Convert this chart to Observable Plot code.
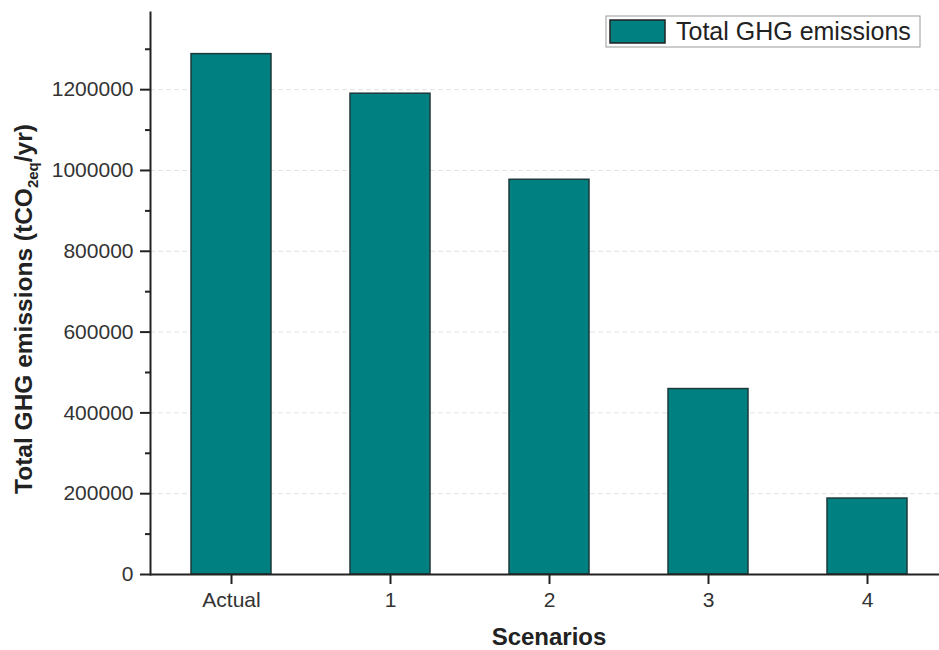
<!DOCTYPE html>
<html>
<head>
<meta charset="utf-8">
<script src="https://cdn.jsdelivr.net/npm/d3@7"></script>
<script src="https://cdn.jsdelivr.net/npm/@observablehq/plot@0.6"></script>
<style>
  html, body { margin: 0; padding: 0; background: #fff; }
  #chart svg { display: block; font-family: "Liberation Sans", Arial, sans-serif; }
</style>
</head>
<body>
<div id="chart"></div>
<script>
const scenarios = ["Actual", "1", "2", "3", "4"];
const emissions = [1288000, 1190000, 977000, 459000, 188000];
const yTicks = [0, 200000, 400000, 600000, 800000, 1000000, 1200000];
const yMinorTicks = [100000, 300000, 500000, 700000, 900000, 1100000, 1300000];
const legendLabel = "Total GHG emissions";
const xTitle = "Scenarios";

const data = scenarios.map((s, i) => ({scenario: s, value: emissions[i]}));

const teal = "#008080";
const ink = "#222";

const plot = Plot.plot({
  width: 939,
  height: 650,
  marginLeft: 150,
  marginRight: 0,
  marginTop: 12,
  marginBottom: 76,
  style: {fontFamily: "Liberation Sans, Arial, sans-serif", background: "#fff", color: ink},
  x: {type: "band", domain: scenarios, range: [150, 946.5], paddingInner: 0.5, paddingOuter: 0.25, label: null},
  y: {domain: [0, 1391000], label: null},
  marks: [
    Plot.gridY(yTicks.slice(1), {stroke: "#e2e2e2", strokeOpacity: 1, strokeDasharray: "5,3"}),
    Plot.barY(data, {x: "scenario", y: "value", fill: teal, stroke: "#1c3a3a", strokeWidth: 1.5}),
    Plot.frame({anchor: "left", stroke: ink, strokeWidth: 2}),
    Plot.ruleY([0], {stroke: ink, strokeWidth: 2}),
    Plot.axisY({ticks: yTicks, tickSize: 10, tickPadding: 7, tickFormat: d => String(d), fontSize: 21, stroke: ink, strokeWidth: 2, fill: "#333", label: null}),
    Plot.axisY({ticks: yMinorTicks, tickSize: 5, tickFormat: () => "", stroke: ink, strokeWidth: 2, label: null}),
    Plot.axisX({tickSize: 10, tickPadding: 8, fontSize: 21, stroke: ink, strokeWidth: 2, fill: "#333", label: null}),
    Plot.text([xTitle], {text: d => d, frameAnchor: "bottom", dx: 4, dy: 70, fontSize: 24, fontWeight: "bold", fill: ink, textAnchor: "middle"})
  ]
});

document.getElementById("chart").appendChild(plot);

const svg = d3.select(plot);

// Y axis title with subscript
const yt = svg.append("text")
  .attr("transform", "translate(32,309) rotate(-90)")
  .attr("text-anchor", "middle")
  .attr("fill", ink)
  .style("font-family", "Liberation Sans, Arial, sans-serif")
  .style("font-weight", "bold")
  .style("font-size", "24.5px");
yt.append("tspan").text("Total GHG emissions (tCO");
yt.append("tspan").attr("dy", 6).style("font-size", "15px").text("2eq");
yt.append("tspan").attr("dy", -6).text("/yr)");

// Legend
const lg = svg.append("g");
lg.append("rect").attr("x", 606).attr("y", 16).attr("width", 314).attr("height", 31)
  .attr("fill", "#fff").attr("stroke", "#9a9a9a").attr("stroke-width", 1);
lg.append("rect").attr("x", 610).attr("y", 20).attr("width", 55).attr("height", 23)
  .attr("fill", teal).attr("stroke", ink).attr("stroke-width", 1.5);
lg.append("text").attr("x", 676).attr("y", 39.5)
  .attr("text-anchor", "start")
  .attr("fill", ink)
  .style("font-family", "Liberation Sans, Arial, sans-serif")
  .style("font-size", "25px")
  .text(legendLabel);
</script>
</body>
</html>
